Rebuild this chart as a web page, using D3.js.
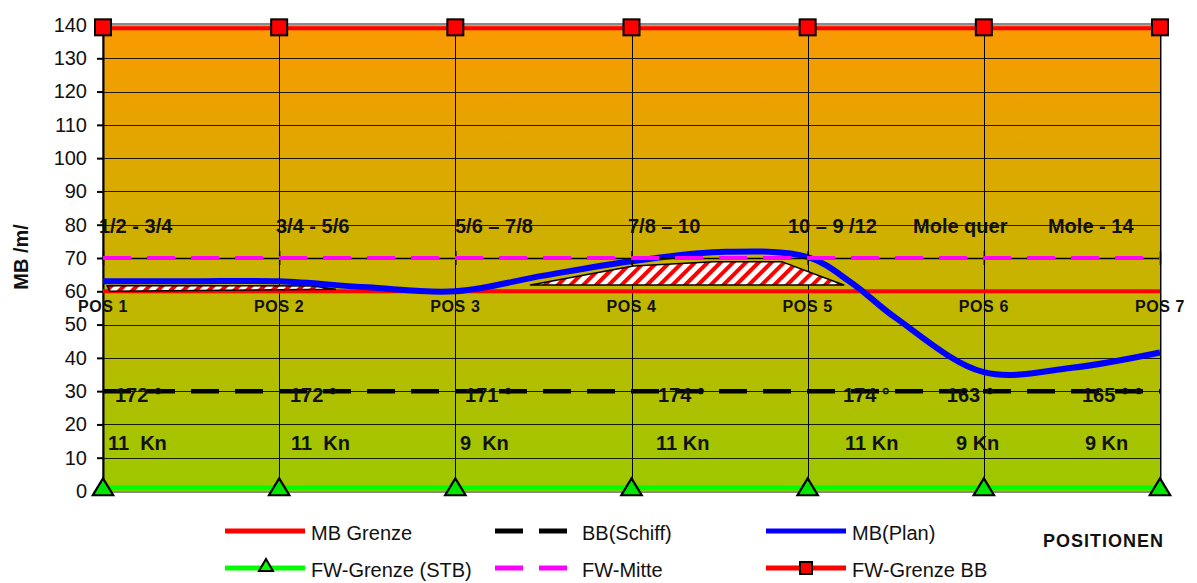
<!DOCTYPE html>
<html>
<head>
<meta charset="utf-8">
<script src="https://cdn.jsdelivr.net/npm/d3@7"></script>
<style>
  html, body { margin: 0; padding: 0; background: #fff; }
  svg { display: block; font-family: "Liberation Sans", Arial, sans-serif; }
  text { white-space: pre; }
</style>
</head>
<body>
<svg id="chart" width="1197" height="583"></svg>
<script>
// ---- data ----
const positions = [1, 2, 3, 4, 5, 6, 7];
const posLabels = ["POS 1", "POS 2", "POS 3", "POS 4", "POS 5", "POS 6", "POS 7"];
const yTicks = [0, 10, 20, 30, 40, 50, 60, 70, 80, 90, 100, 110, 120, 130, 140];

const mbGrenze = 60;        // MB Grenze
const bbSchiff = 30;        // BB(Schiff)
const fwMitte = 70;         // FW-Mitte
const fwGrenzeBB = 139;     // FW-Grenze BB
const fwGrenzeSTB = 1;      // FW-Grenze (STB)

// MB(Plan), sampled between positions
const planX = [1, 1.5, 2, 2.5, 3, 3.5, 4, 4.5, 5, 5.25, 5.5, 6, 6.5, 7];
const planY = [63, 63, 63, 61.2, 60, 64.7, 69, 71.8, 70.3, 62.5, 52, 35.7, 37, 41.6];

// hatched regions (position, value)
const hatchA = [[1.023, 61.7], [2.19, 61.6], [2.32, 60.6], [1.04, 60.0]];
const hatchB = [[3.426, 61.9], [4.011, 67.6], [4.466, 68.9], [4.852, 68.9], [5.205, 61.9]];

// annotation rows
const sectionLabels = ["1/2 - 3/4", "3/4 - 5/6", "5/6 \u2013 7/8", "7/8 \u2013 10", "10 \u2013 9 /12", "Mole quer", "Mole - 14"];
const sectionAt = [0.977, 1.982, 2.998, 3.98, 4.888, 5.598, 6.364];
const sectionLevel = 77.4;

const courseLabels = ["172 \u00b0", "172 \u00b0", "171 \u00b0", "174 \u00b0", "174 \u00b0", "163 \u00b0", "165 \u00b0 \u00b0"];
const courseAt = [1.068, 2.061, 3.055, 4.15, 5.2, 5.79, 6.557];
const courseLevel = 26.8;

const speedLabels = ["11  Kn", "11  Kn", "9  Kn", "11 Kn", "11 Kn", "9 Kn", "9 Kn"];
const speedAt = [1.028, 2.067, 3.026, 4.139, 5.212, 5.842, 6.574];
const speedLevel = 12.3;

const posLabelLevel = 53.9;

// ---- layout ----
const svg = d3.select("#chart");
const L = 103, R = 1160, T = 25, B = 491;
const x = d3.scaleLinear().domain([1, 7]).range([L, R]);
const y = d3.scaleLinear().domain([0, 140]).range([B, T]);

// background gradient
const defs = svg.append("defs");
const grad = defs.append("linearGradient").attr("id", "bg").attr("x1", 0).attr("y1", 0).attr("x2", 0).attr("y2", 1);
grad.append("stop").attr("offset", "0%").attr("stop-color", "#FA9A00");
grad.append("stop").attr("offset", "100%").attr("stop-color", "#9CC900");

const pat = defs.append("pattern").attr("id", "hatch").attr("patternUnits", "userSpaceOnUse")
  .attr("width", 9).attr("height", 9).attr("patternTransform", "rotate(45)");
pat.append("rect").attr("width", 9).attr("height", 9).attr("fill", "#fff");
pat.append("rect").attr("width", 4).attr("height", 9).attr("fill", "#FF0000");

// plot frame
svg.append("rect").attr("x", L).attr("y", T - 1).attr("width", R - L + 1).attr("height", B - T + 2)
  .attr("fill", "none").attr("stroke", "#8a8a8a").attr("stroke-width", 2);
svg.append("rect").attr("x", L).attr("y", T).attr("width", R - L).attr("height", B - T).attr("fill", "url(#bg)");

// horizontal gridlines
svg.append("g").selectAll("line").data(yTicks.filter(d => d > 0 && d < 140)).join("line")
  .attr("x1", L).attr("x2", R).attr("y1", d => Math.round(y(d)) + 0.5).attr("y2", d => Math.round(y(d)) + 0.5)
  .attr("stroke", "#000").attr("stroke-opacity", 0.85).attr("stroke-width", 1);

// vertical lines at each position
svg.append("g").selectAll("line").data(positions.slice(1)).join("line")
  .attr("x1", d => Math.round(x(d)) + 0.5).attr("x2", d => Math.round(x(d)) + 0.5).attr("y1", T).attr("y2", B)
  .attr("stroke", "#000").attr("stroke-width", 1);

// y axis
const yAxis = d3.axisLeft(y).tickValues(yTicks).tickSize(6).tickPadding(10).tickFormat(d3.format("d"));
const gy = svg.append("g").attr("transform", `translate(${L},0)`).call(yAxis);
gy.select(".domain").attr("stroke", "#000").attr("stroke-width", 2);
gy.selectAll(".tick line").attr("stroke", "#000").attr("stroke-width", 2);
gy.selectAll(".tick text").attr("font-size", 20).attr("fill", "#111")
  .attr("font-family", "'Liberation Sans', Arial, sans-serif");

svg.append("text").attr("transform", `translate(28,257) rotate(-90)`).attr("text-anchor", "middle")
  .attr("font-size", 20).attr("font-weight", "bold").attr("fill", "#111").text("MB /m/");

// MB Grenze
svg.append("line").attr("x1", x(1)).attr("x2", x(7)).attr("y1", y(mbGrenze)).attr("y2", y(mbGrenze))
  .attr("stroke", "#FF0000").attr("stroke-width", 4);

// hatched regions
const poly = d3.line().x(d => x(d[0])).y(d => y(d[1]));
[hatchA, hatchB].forEach(h => {
  svg.append("path").attr("d", poly(h) + "Z").attr("fill", "url(#hatch)")
    .attr("stroke", "#000").attr("stroke-width", 1.5).attr("stroke-linejoin", "round");
});

// BB(Schiff)
svg.append("line").attr("x1", x(1)).attr("x2", x(7)).attr("y1", y(bbSchiff)).attr("y2", y(bbSchiff))
  .attr("stroke", "#000").attr("stroke-width", 4.5).attr("stroke-dasharray", "28,16");

// MB(Plan)
const planLine = d3.line().x(d => x(d[0])).y(d => y(d[1])).curve(d3.curveCatmullRom.alpha(0.5));
svg.append("path").attr("d", planLine(planX.map((v, i) => [v, planY[i]])))
  .attr("fill", "none").attr("stroke", "#0000FF").attr("stroke-width", 6).attr("stroke-linejoin", "round");

// category axis crossing at 70
const xAxis = d3.axisBottom(x).tickValues(positions).tickSize(0).tickFormat("");
const gx = svg.append("g").attr("transform", `translate(0,${y(fwMitte)})`).call(xAxis);
gx.select(".domain").attr("stroke", "#000").attr("stroke-width", 1.5);
gx.selectAll(".tick").append("line").attr("y1", -7).attr("y2", 7).attr("stroke", "#000").attr("stroke-width", 1.5);

// FW-Mitte
svg.append("line").attr("x1", x(1)).attr("x2", x(7)).attr("y1", y(fwMitte)).attr("y2", y(fwMitte))
  .attr("stroke", "#FF00FF").attr("stroke-width", 4).attr("stroke-dasharray", "28,16");

// FW-Grenze BB
svg.append("line").attr("x1", x(1)).attr("x2", x(7)).attr("y1", y(fwGrenzeBB)).attr("y2", y(fwGrenzeBB))
  .attr("stroke", "#FF0000").attr("stroke-width", 4);
svg.append("g").selectAll("rect").data(positions).join("rect")
  .attr("x", d => x(d) - 8).attr("y", y(fwGrenzeBB) - 9).attr("width", 16).attr("height", 16)
  .attr("fill", "#FF0000").attr("stroke", "#000").attr("stroke-width", 2);

// FW-Grenze (STB)
svg.append("line").attr("x1", x(1)).attr("x2", x(7)).attr("y1", y(fwGrenzeSTB)).attr("y2", y(fwGrenzeSTB))
  .attr("stroke", "#00FF00").attr("stroke-width", 5);
const tri = d3.symbol().type(d3.symbolTriangle).size(150);
svg.append("g").selectAll("path").data(positions).join("path")
  .attr("d", tri).attr("transform", d => `translate(${x(d)},${y(fwGrenzeSTB) + 2}) scale(1.1,1.05)`)
  .attr("fill", "#00E600").attr("stroke", "#000").attr("stroke-width", 2);

// annotations
function row(labels, at, level, opts) {
  svg.append("g").selectAll("text").data(labels).join("text")
    .attr("x", (d, i) => x(at[i])).attr("y", y(level))
    .attr("font-size", opts.size).attr("font-weight", "bold").attr("fill", "#111")
    .attr("text-anchor", opts.anchor || "start").attr("letter-spacing", opts.ls || 0)
    .attr("xml:space", "preserve")
    .text(d => d);
}
row(sectionLabels, sectionAt, sectionLevel, { size: 20 });
row(posLabels, positions, posLabelLevel, { size: 16, anchor: "middle", ls: 0.6 });
row(courseLabels, courseAt, courseLevel, { size: 20 });
row(speedLabels, speedAt, speedLevel, { size: 20 });

// legend
const lg = svg.append("g").attr("font-size", 20).attr("fill", "#111");
const legendItems = [
  { label: "MB Grenze", x0: 225, row: 0, color: "#FF0000" },
  { label: "BB(Schiff)", x0: 495, row: 0, color: "#000", dash: true },
  { label: "MB(Plan)", x0: 766, row: 0, color: "#0000FF" },
  { label: "FW-Grenze (STB)", x0: 225, row: 1, color: "#00FF00", marker: "tri" },
  { label: "FW-Mitte", x0: 495, row: 1, color: "#FF00FF", dash: true },
  { label: "FW-Grenze BB", x0: 766, row: 1, color: "#FF0000", marker: "sq" }
];
const rowY = [531, 568];
legendItems.forEach(it => {
  const ly = rowY[it.row];
  if (it.dash) {
    lg.append("line").attr("x1", it.x0).attr("x2", it.x0 + 73).attr("y1", ly).attr("y2", ly)
      .attr("stroke", it.color).attr("stroke-width", 5).attr("stroke-dasharray", "28,16");
  } else {
    lg.append("line").attr("x1", it.x0).attr("x2", it.x0 + 80).attr("y1", ly).attr("y2", ly)
      .attr("stroke", it.color).attr("stroke-width", 5);
  }
  if (it.marker === "tri") {
    lg.append("path").attr("d", d3.symbol().type(d3.symbolTriangle).size(85)())
      .attr("transform", `translate(${it.x0 + 41},${ly - 1})`).attr("fill", "#00FF00").attr("stroke", "#000").attr("stroke-width", 2);
  }
  if (it.marker === "sq") {
    lg.append("rect").attr("x", it.x0 + 34).attr("y", ly - 6).attr("width", 12).attr("height", 12)
      .attr("fill", "#FF0000").attr("stroke", "#000").attr("stroke-width", 2);
  }
  lg.append("text").attr("x", it.dash ? it.x0 + 87 : it.x0 + 86).attr("y", ly + 9).text(it.label);
});

svg.append("text").attr("x", 1043).attr("y", 547).attr("font-size", 18).attr("font-weight", "bold")
  .attr("letter-spacing", 1).attr("fill", "#111").text("POSITIONEN");
</script>
</body>
</html>
